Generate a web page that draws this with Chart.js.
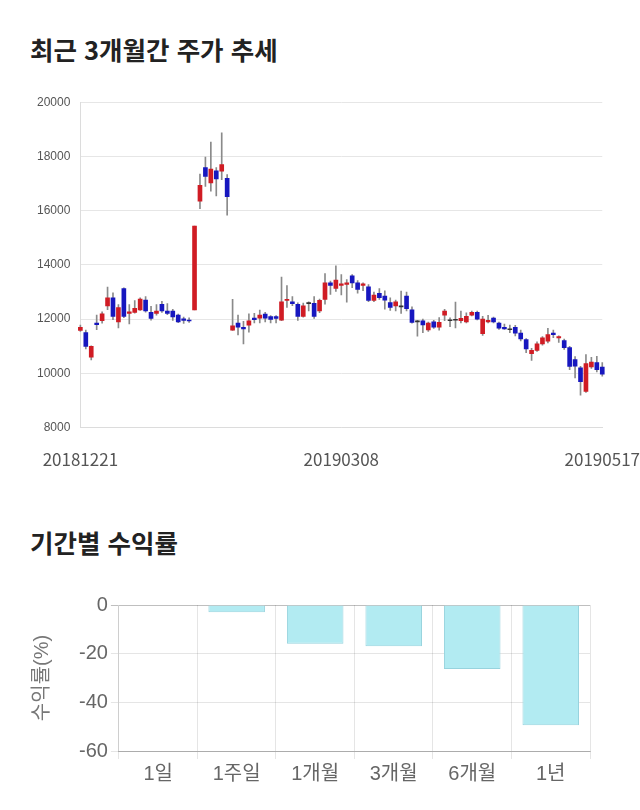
<!DOCTYPE html>
<html lang="ko">
<head>
<meta charset="utf-8">
<script src="https://cdn.jsdelivr.net/npm/chart.js@4.4.1/dist/chart.umd.min.js"></script>
<style>
    body { margin: 0; width: 640px; height: 810px; background: #fff; position: relative; font-family: 'Noto Sans CJK KR', sans-serif; }
    h2 { position: absolute; left: 30px; margin: 0; font-size: 25.5px; font-weight: 700; color: #222; line-height: 1; }
    #t1 { top: 36px; }
    #t2 { top: 529px; }
    #box1 { position: absolute; left: 0; top: 85px; width: 640px; height: 395px; }
    #box2 { position: absolute; left: 0; top: 580px; width: 640px; height: 220px; }
</style>
</head>
<body>
<h2 id="t1">최근 3개월간 주가 추세</h2>
<div id="box1"><canvas id="priceChart"></canvas></div>
<h2 id="t2">기간별 수익률</h2>
<div id="box2"><canvas id="returnChart"></canvas></div>
<script>
        // 일별 시세 (20181221 ~ 20190517)
        const dates = [
            '20181221', '20181224', '20181226', '20181227', '20181228',
            '20190102', '20190103', '20190104', '20190107', '20190108', '20190109', '20190110', '20190111',
            '20190114', '20190115', '20190116', '20190117', '20190118', '20190121', '20190122', '20190123',
            '20190124', '20190125', '20190128', '20190129', '20190130', '20190131',
            '20190201', '20190207', '20190208', '20190211', '20190212', '20190213', '20190214', '20190215',
            '20190218', '20190219', '20190220', '20190221', '20190222', '20190225', '20190226', '20190227', '20190228',
            '20190304', '20190305', '20190306', '20190307', '20190308', '20190311', '20190312', '20190313',
            '20190314', '20190315', '20190318', '20190319', '20190320', '20190321', '20190322', '20190325',
            '20190326', '20190327', '20190328', '20190329',
            '20190401', '20190402', '20190403', '20190404', '20190405', '20190408', '20190409', '20190410',
            '20190411', '20190412', '20190415', '20190416', '20190417', '20190418', '20190419', '20190422',
            '20190423', '20190424', '20190425', '20190426', '20190429', '20190430',
            '20190502', '20190503', '20190507', '20190508', '20190509', '20190510', '20190513', '20190514',
            '20190515', '20190516', '20190517'
        ];
        const opens = [
            11580, 11500, 10600, 11850, 11940, 12490, 12790, 11900, 13130, 12210,
            12250, 12340, 12700, 12250, 12210, 12550, 12300, 12300, 12150, 12010,
            11950, 12340, 16350, 17590, 17020, 17470, 17460, 17190, 11590, 11850,
            11700, 11780, 12040, 12040, 12190, 12090, 12090, 11960, 12690, 12640,
            12550, 12100, 12570, 12580, 12300, 12730, 13340, 13130, 13240, 13280,
            13600, 13340, 13240, 13190, 12690, 12950, 12850, 12610, 12490, 12450,
            12850, 12340, 11900, 11940, 11600, 11900, 11700, 12150, 11940, 11960,
            11940, 11900, 12150, 12250, 11460, 11900, 12040, 11850, 11700, 11610,
            11700, 11490, 11250, 10730, 10850, 11090, 11190, 11490, 11310, 11210,
            10950, 10510, 10200, 9330, 10240, 10400, 10230
        ];
        const closes = [
            11700, 10990, 11000, 11800, 12200, 12790, 12100, 12430, 12100, 12270,
            12400, 12740, 12300, 12030, 12300, 12300, 12210, 12080, 11900, 11950,
            11930, 15430, 16930, 17260, 17530, 17170, 17700, 16520, 11750, 11700,
            11640, 11940, 11980, 12150, 12040, 11990, 12030, 12640, 12710, 12570,
            12100, 12490, 12570, 12100, 12690, 13340, 13240, 13440, 13300, 13340,
            13340, 13100, 13300, 12690, 12890, 12790, 12700, 12430, 12640, 12450,
            12390, 11880, 11900, 11790, 11850, 11700, 11880, 12300, 11940, 11960,
            12030, 12100, 12250, 12000, 12000, 11960, 11900, 11670, 11640, 11610,
            11480, 11270, 10900, 10850, 11090, 11310, 11430, 11430, 11360, 10950,
            10260, 10270, 9690, 10360, 10420, 10140, 9970
        ];
        const highs = [
            11780, 11600, 11020, 12150, 12270, 13180, 12970, 12540, 13150, 12540,
            12680, 12790, 12830, 12470, 12540, 12660, 12570, 12360, 12190, 12080,
            12050, 15430, 17350, 17980, 18530, 17590, 18870, 17330, 12730, 12150,
            11920, 12200, 12210, 12330, 12250, 12130, 12130, 13550, 13240, 12830,
            12600, 12590, 12640, 12830, 12740, 13680, 13400, 13970, 13640, 13460,
            13640, 13420, 13340, 13270, 13000, 13130, 13040, 12790, 12700, 13030,
            13000, 12450, 11960, 12000, 11890, 11960, 12060, 12360, 12050, 12630,
            12300, 12230, 12300, 12300, 12100, 12140, 12080, 11890, 11820, 11780,
            11770, 11600, 11280, 10920, 11160, 11360, 11660, 11600, 11380, 11260,
            11000, 10620, 10260, 10690, 10590, 10630, 10400
        ];
        const lows = [
            11550, 10900, 10500, 11610, 11850, 12350, 11980, 11680, 12050, 11820,
            12220, 12320, 12260, 11960, 12150, 12250, 12160, 11950, 11870, 11840,
            11880, 12340, 16070, 16890, 16720, 16540, 17140, 15830, 11580, 11420,
            11090, 11520, 11860, 11860, 11900, 11860, 11860, 11940, 12430, 12500,
            11950, 12070, 12300, 12030, 12240, 12550, 12910, 13020, 12890, 12630,
            13160, 12960, 13050, 12640, 12640, 12730, 12370, 12320, 12300, 12210,
            12300, 11850, 11370, 11500, 11550, 11660, 11590, 11940, 11720, 11680,
            11860, 11860, 12120, 11970, 11400, 11860, 11860, 11620, 11620, 11500,
            11380, 11200, 10760, 10480, 10810, 11040, 11120, 11320, 11140, 10880,
            10140, 9830, 9200, 9300, 10180, 10050, 9900
        ];
        // x축에 표시할 날짜 위치 (처음, 중간, 끝)
        const dateTickIdx = [0, 48, 96];

        // 기간별 수익률
        const periods = ['1일', '1주일', '1개월', '3개월', '6개월', '1년'];
        const returns = [0, -3.0, -15.9, -17.0, -26.3, -49.4];

        const UP = '#d01c24';
        const DOWN = '#1717bf';
        const candleColors = opens.map((o, i) => closes[i] > o ? UP : (closes[i] < o ? DOWN : '#333'));

        // 주가 추세 (캔들)
        const priceCtx = document.getElementById('priceChart').getContext('2d');
        new Chart(priceCtx, {
            type: 'bar',
            data: {
                labels: dates,
                datasets: [{
                    data: dates.map((d, i) => [lows[i], highs[i]]),
                    backgroundColor: '#8a8a8a',
                    barThickness: 1,
                    grouped: false,
                    order: 2,
                    clip: 6
                }, {
                    data: dates.map((d, i) => [opens[i], closes[i]]),
                    backgroundColor: candleColors,
                    borderColor: candleColors,
                    barThickness: 4,
                    minBarLength: 1,
                    grouped: false,
                    order: 1,
                    clip: 6
                }]
            },
            options: {
                responsive: true,
                maintainAspectRatio: false,
                animation: false,
                plugins: {
                    legend: { display: false },
                    tooltip: { enabled: false }
                },
                layout: {
                    padding: { top: 14, bottom: 10, left: 27, right: 30 }
                },
                scales: {
                    x: {
                        offset: false,
                        grid: { color: 'transparent', drawTicks: true, tickLength: 22 },
                        border: { color: '#dcdcdc' },
                        ticks: {
                            autoSkip: false,
                            maxRotation: 0,
                            minRotation: 0,
                            padding: 0,
                            color: '#555',
                            font: { family: "'Noto Sans CJK KR', sans-serif", size: 17 },
                            callback: (v, i) => dateTickIdx.includes(i) ? dates[i] : ''
                        }
                    },
                    y: {
                        min: 8000,
                        max: 20000,
                        grid: { color: '#e6e6e6', drawTicks: false },
                        border: { color: '#dcdcdc' },
                        ticks: {
                            stepSize: 2000,
                            padding: 10,
                            color: '#555',
                            font: { family: "'Liberation Sans', Arial, sans-serif", size: 12 },
                            callback: v => String(v)
                        }
                    }
                }
            }
        });

        // 기간별 수익률
        const returnCtx = document.getElementById('returnChart').getContext('2d');
        new Chart(returnCtx, {
            type: 'bar',
            data: {
                labels: periods,
                datasets: [{
                    data: returns,
                    backgroundColor: '#b2ebf2',
                    borderColor: '#97d3de',
                    borderWidth: 1
                }]
            },
            options: {
                responsive: true,
                maintainAspectRatio: false,
                animation: false,
                plugins: {
                    legend: { display: false },
                    tooltip: { enabled: false }
                },
                layout: {
                    padding: { top: 25, bottom: 11, left: 26, right: 50 }
                },
                scales: {
                    x: {
                        grid: { color: 'rgba(0,0,0,0.1)' },
                        border: { color: 'rgba(0,0,0,0.25)' },
                        ticks: {
                            color: '#666',
                            font: { family: "'Liberation Sans', 'Noto Sans CJK KR', sans-serif", size: 20 }
                        }
                    },
                    y: {
                        min: -60,
                        max: 0,
                        grid: {
                            color: ctx => ctx.tick && ctx.tick.value === 0 ? 'rgba(0,0,0,0.25)' : 'rgba(0,0,0,0.1)'
                        },
                        border: { color: 'rgba(0,0,0,0.1)' },
                        ticks: {
                            stepSize: 20,
                            color: '#666',
                            font: { family: "'Liberation Sans', Arial, sans-serif", size: 20 }
                        },
                        title: {
                            display: true,
                            text: '수익률(%)',
                            color: '#777',
                            padding: { top: 4, bottom: 22 },
                            font: { family: "'Liberation Sans', 'Noto Sans CJK KR', sans-serif", size: 20 }
                        }
                    }
                }
            }
        });
</script>
</body>
</html>
